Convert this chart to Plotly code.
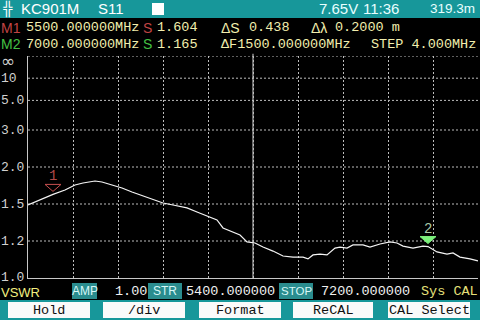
import plotly.graph_objects as go

# ---------------- data ----------------
freq_mhz = [5400, 5428, 5468, 5500, 5548, 5588, 5620, 5668, 5696, 5736,
            5776, 5816, 5860, 5888, 5940, 5980, 6036, 6076, 6116, 6156,
            6180, 6220, 6248, 6276, 6308, 6340, 6380, 6420, 6460, 6500,
            6520, 6540, 6568, 6596, 6628, 6648, 6676, 6700, 6740, 6768,
            6808, 6848, 6876, 6900, 6940, 6980, 7000, 7036, 7076, 7100,
            7128, 7168, 7200]
vswr = [1.490, 1.521, 1.563, 1.604, 1.657, 1.721, 1.748, 1.776, 1.762, 1.721,
        1.682, 1.632, 1.586, 1.563, 1.510, 1.490, 1.461, 1.423, 1.388, 1.354,
        1.291, 1.261, 1.240, 1.194, 1.187, 1.162, 1.138, 1.110, 1.104, 1.104,
        1.094, 1.116, 1.121, 1.116, 1.156, 1.162, 1.156, 1.175, 1.175, 1.162,
        1.181, 1.194, 1.187, 1.168, 1.156, 1.168, 1.165, 1.133, 1.121, 1.127,
        1.104, 1.094, 1.083]

marker_names = ["1", "2"]
marker_freq = [5500, 7000]
marker_vswr = [1.604, 1.165]

y_tick_vswr = [float("inf"), 10, 5.0, 3.0, 2.0, 1.5, 1.2, 1.0]
y_tick_text = ["∞", "10", "5.0", "3.0", "2.0", "1.5", "1.2", "1.0"]

f_start, f_stop = 5400, 7200
x_grid = [f_start + 180 * k for k in range(1, 11)]


def to_u(v):
    # analyzer VSWR scale: linear in 1 - 1/VSWR
    return 1.0 - 1.0 / v


# ---------------- geometry helpers ----------------
W, H = 480, 320
L, R, T, B = 28, 478, 56, 278
MONO = "Liberation Mono"
SANS = "Liberation Sans"
TEAL = "#17979a"
BOXTEAL = "#2a8c8e"


def px(x):
    return (x - L) / (R - L)


def py(y):
    return (B - y) / (B - T)


annotations = []
shapes = []


def txt(x, y, s, color, size=13.5, family=MONO, anchor="left"):
    annotations.append(dict(xref="paper", yref="paper", x=px(x), y=py(y), text=s,
                            showarrow=False, xanchor=anchor, yanchor="middle",
                            borderpad=0,
                            font=dict(family=family, size=size, color=color)))


def rect(x0, y0, x1, y1, color):
    shapes.append(dict(type="rect", xref="paper", yref="paper",
                       x0=px(x0), x1=px(x1), y0=py(y0), y1=py(y1),
                       fillcolor=color, line=dict(width=0), layer="above"))


fig = go.Figure()
fig.add_trace(go.Scatter(x=freq_mhz, y=[to_u(v) for v in vswr], mode="lines",
                         line=dict(color="#f4f4f4", width=1.2),
                         hoverinfo="skip", showlegend=False))

# y gridlines (dotted) through the VSWR scale
for v in y_tick_vswr[:-1]:
    shapes.append(dict(type="line", xref="paper", yref="y", x0=0, x1=1,
                       y0=to_u(v), y1=to_u(v),
                       line=dict(color="#bdbdbd", width=1, dash="2px,2px"),
                       layer="below"))
# centre frequency solid line
shapes.append(dict(type="line", xref="x", yref="paper", x0=(f_start + f_stop) / 2,
                   x1=(f_start + f_stop) / 2, y0=0, y1=1.01,
                   line=dict(color="#d8d8d8", width=1), layer="below"))

# y tick labels (left aligned)
for v, t in zip(y_tick_vswr, y_tick_text):
    is_inf = v == float("inf")
    annotations.append(dict(xref="paper", yref="y", x=-L / (R - L), y=to_u(v),
                            text=t, showarrow=False, xanchor="left",
                            yanchor="middle", borderpad=0,
                            yshift=-5 if is_inf else (1 if v == 1.0 else 0),
                            font=dict(family="DejaVu Sans" if is_inf else MONO,
                                      size=17 if is_inf else 13,
                                      color="#d0d0d0")))

# markers
m_styles = [dict(line="#c85050", fill="rgba(0,0,0,0)", label="#b04a4a"),
            dict(line="#7cf07c", fill="#7cf07c", label="#a8c8a8")]
for name, f, v, st in zip(marker_names, marker_freq, marker_vswr, m_styles):
    shapes.append(dict(type="path", xref="x", yref="y", xsizemode="pixel",
                       ysizemode="pixel", xanchor=f, yanchor=to_u(v),
                       path="M -8,10 L 8,10 L 0,3 Z",
                       line=dict(color=st["line"], width=1), fillcolor=st["fill"],
                       layer="above"))
    annotations.append(dict(xref="x", yref="y", x=f, y=to_u(v), text=name,
                            showarrow=False, yshift=18, xanchor="center",
                            yanchor="middle",
                            font=dict(family=MONO, size=14, color=st["label"])))

# ---------------- header ----------------
rect(0, 0, 480, 18, TEAL)
txt(2, 9, "╬", "#ffffff", size=15)
txt(20, 9, "KC901M", "#ffffff", size=15, family=SANS)
txt(97, 9, "S11", "#ffffff", size=15, family=SANS)
rect(152, 3, 164, 15, "#ffffff")
txt(318, 9, "7.65V", "#e8ffff", size=15, family=SANS)
txt(362, 9, "11:36", "#e8ffff", size=15, family=SANS)
txt(429, 9, "319.3m", "#e8ffff", size=13.5, family=SANS)

YEL = "#f2eeae"
txt(0, 28, "M1", "#c04444", size=14, family=SANS)
txt(25, 28, "5500.000000MHz", YEL)
txt(142, 28, "S", "#c04444", size=14, family=SANS)
txt(156, 28, "1.604", YEL)
txt(220, 28, "ΔS", YEL, size=14, family=SANS)
txt(248, 28, "0.438", YEL)
txt(310, 28, "Δλ", YEL, size=14, family=SANS)
txt(334, 28, "0.2000 m", YEL)

txt(0, 44, "M2", "#44c044", size=14, family=SANS)
txt(25, 44, "7000.000000MHz", YEL)
txt(142, 44, "S", "#44c044", size=14, family=SANS)
txt(156, 44, "1.165", YEL)
txt(220, 44, "ΔF1500.000000MHz", YEL)
txt(370, 44, "STEP 4.000MHz", YEL)

# ---------------- status row ----------------
rect(72, 283, 97, 299, BOXTEAL)
rect(148, 283, 182, 299, BOXTEAL)
rect(279, 283, 313, 299, BOXTEAL)
txt(0, 292, "VSWR", "#f4f080", size=13, family=SANS)
txt(84.5, 291, "AMP", "#d8f8f8", size=12, family=SANS, anchor="center")
txt(114, 291, "1.00", "#f0f0f0")
txt(165, 291, "STR", "#d8f8f8", size=12, family=SANS, anchor="center")
txt(185, 291, "5400.000000", "#f0f0f0")
txt(296, 291, "STOP", "#d8f8f8", size=11.5, family=SANS, anchor="center")
txt(320, 291, "7200.000000", "#f0f0f0")
txt(420, 291, "Sys CAL", "#e6e07a")

# ---------------- soft keys ----------------
rect(0, 300, 480, 320, TEAL)
buttons = [("Hold", 8, 90), ("/div", 103, 185), ("Format", 199, 281),
           ("ReCAL", 293, 373), ("CAL Select", 388, 470)]
for label, x0, x1 in buttons:
    rect(x0, 302, x1, 318, "#fafafa")
    txt((x0 + x1) / 2, 310, label, "#101010", size=13.5, anchor="center")

fig.update_layout(
    width=W, height=H,
    margin=dict(l=L, r=W - R, t=T, b=H - B, pad=0),
    paper_bgcolor="#000000", plot_bgcolor="#000000",
    showlegend=False,
    xaxis=dict(range=[f_start, f_stop], tickvals=x_grid, showticklabels=False,
               ticks="", showgrid=True, gridcolor="#bdbdbd", gridwidth=1,
               griddash="2px,2px", zeroline=False, showline=True,
               linecolor="#c8c8c8", linewidth=1, fixedrange=True),
    yaxis=dict(range=[0, 1], showticklabels=False, ticks="", showgrid=False,
               zeroline=False, showline=True, linecolor="#c8c8c8", linewidth=1,
               fixedrange=True),
    annotations=annotations, shapes=shapes,
)

fig.write_html("out.html", config={"displayModeBar": False})
